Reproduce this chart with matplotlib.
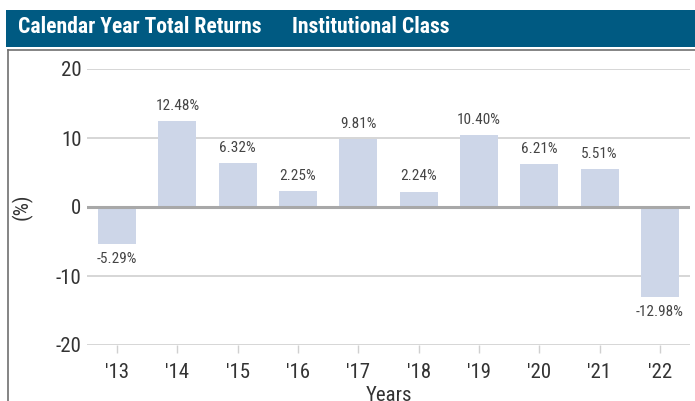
import matplotlib
matplotlib.use("Agg")
import matplotlib.pyplot as plt
from matplotlib import font_manager
from matplotlib.patches import Rectangle
from matplotlib.lines import Line2D

years = ["'13", "'14", "'15", "'16", "'17", "'18", "'19", "'20", "'21", "'22"]
returns = [-5.29, 12.48, 6.32, 2.25, 9.81, 2.24, 10.40, 6.21, 5.51, -12.98]
yticks = [-20, -10, 0, 10, 20]
title_left = "Calendar Year Total Returns"
title_right = "Institutional Class"

names = {f.name for f in font_manager.fontManager.ttflist}
fam = "Lato"
for cand in ["Liberation Sans Narrow", "Roboto Condensed", "Open Sans Condensed",
             "Noto Sans Condensed", "Lato"]:
    if cand in names:
        fam = cand
        break
plt.rcParams['font.family'] = [fam, 'DejaVu Sans']

W, H = 695, 401
fig = plt.figure(figsize=(W/100, H/100), dpi=100)

# header bar
fig.patches.append(Rectangle((6/W, 1-47/H), (W-6)/W, 37/H, transform=fig.transFigure,
                             facecolor="#005a82", edgecolor="none"))
fig.text(18/W, 1-27/H, title_left, color="white", fontsize=15.6, fontweight="bold",
         va="center", ha="left")
fig.text(292/W, 1-27/H, title_right, color="white", fontsize=15.6, fontweight="bold",
         va="center", ha="left")
# box border
fig.lines.append(Line2D([8/W, 1], [1-49.5/H, 1-49.5/H], transform=fig.transFigure,
                        color="#707070", lw=1.2))
fig.lines.append(Line2D([8/W, 8/W], [0, 1-49.5/H], transform=fig.transFigure,
                        color="#707070", lw=1.2))

ax = fig.add_axes([87/W, 1-345/H, (690-87)/W, (345-69)/H])
x = list(range(len(years)))
ax.bar(x, returns, width=0.63, color="#cdd6e8", zorder=2)
ax.set_xlim(-0.5, 9.5)
ax.set_ylim(-20, 20)
ax.set_yticks(yticks)
ax.set_yticklabels([str(t) for t in yticks], fontsize=15, color="#333333")
ax.set_xticks(x)
ax.set_xticklabels(years, fontsize=15, color="#333333")
for t in yticks:
    if t == 0:
        continue
    ax.axhline(t, color="#d0d0d0", lw=1.2, zorder=1)
ax.axhline(0, color="#a8a8a8", lw=2.2, zorder=3)
for s in ax.spines.values():
    s.set_visible(False)
ax.tick_params(axis="y", length=0, pad=4)
ax.tick_params(axis="x", length=6, color="#d0d0d0", width=1, pad=7)
for xi, v in zip(x, returns):
    if v >= 0:
        ax.annotate(f"{v:.2f}%", (xi, v), xytext=(0, 6), textcoords="offset points",
                    ha="center", va="bottom", fontsize=11, color="#444444")
    else:
        ax.annotate(f"{v:.2f}%", (xi, v), xytext=(0, -6), textcoords="offset points",
                    ha="center", va="top", fontsize=11, color="#444444")
ax.set_ylabel("(%)", fontsize=15, color="#333333")
ax.yaxis.set_label_coords((33 - 87) / 603, 0.5)
ax.set_xlabel("Years", fontsize=15, color="#333333", labelpad=3)

fig.savefig("out.png", dpi=100)
